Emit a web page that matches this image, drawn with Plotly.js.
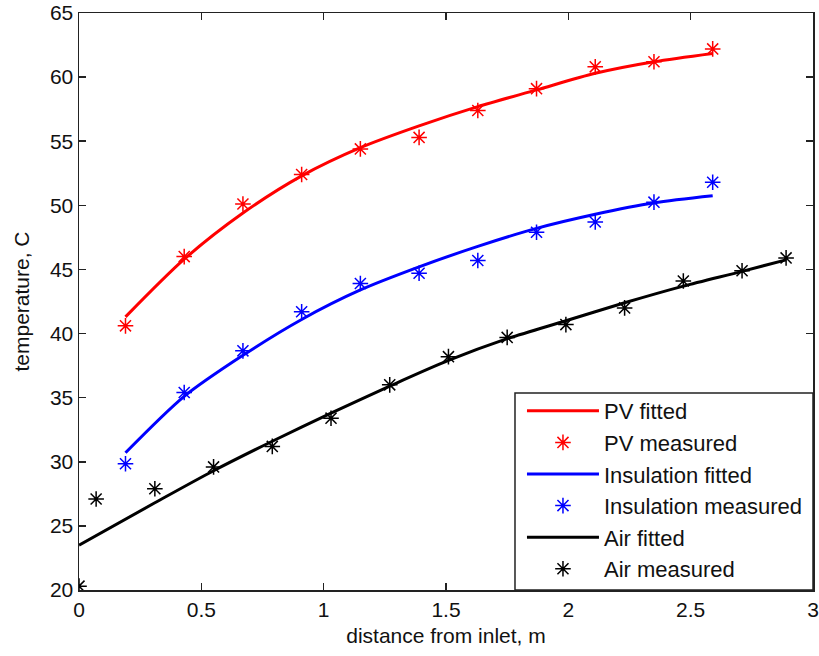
<!DOCTYPE html>
<html>
<head>
<meta charset="utf-8">
<script src="https://cdn.plot.ly/plotly-3.0.1.min.js"></script>
<style>
  html, body { margin: 0; padding: 0; background: #fff; }
  #chart { width: 819px; height: 656px; }
</style>
</head>
<body>
<div id="chart"></div>
<script>
// Distances from inlet (m)
const pvX = [0.19, 0.43, 0.67, 0.91, 1.15, 1.39, 1.63, 1.87, 2.11, 2.35, 2.59];
const pvMeasured = [40.6, 46.0, 50.1, 52.4, 54.4, 55.3, 57.4, 59.1, 60.8, 61.2, 62.2];
const pvFitted = [41.3, 45.8, 49.4, 52.3, 54.5, 56.2, 57.7, 59.0, 60.3, 61.2, 61.85];

const insX = [0.19, 0.43, 0.67, 0.91, 1.15, 1.39, 1.63, 1.87, 2.11, 2.35, 2.59];
const insMeasured = [29.85, 35.4, 38.65, 41.7, 43.9, 44.7, 45.7, 47.9, 48.7, 50.25, 51.8];
const insFitted = [30.7, 35.1, 38.3, 41.1, 43.4, 45.2, 46.8, 48.2, 49.3, 50.2, 50.75];

const airMeasX = [0.0, 0.07, 0.31, 0.55, 0.79, 1.03, 1.27, 1.51, 1.75, 1.99, 2.23, 2.47, 2.71, 2.89];
const airMeasured = [20.3, 27.1, 27.9, 29.6, 31.2, 33.4, 36.0, 38.2, 39.7, 40.7, 42.0, 44.1, 44.9, 45.9];
const airFitX = [0.0, 0.31, 0.55, 0.79, 1.03, 1.27, 1.51, 1.75, 1.99, 2.23, 2.47, 2.71, 2.89];
const airFitted = [23.5, 26.8, 29.3, 31.6, 33.8, 35.9, 37.9, 39.6, 41.0, 42.4, 43.7, 44.85, 45.75];

const xTicks = [0, 0.5, 1, 1.5, 2, 2.5, 3];
const yTicks = [20, 25, 30, 35, 40, 45, 50, 55, 60, 65];

const FONT = 'Arial, "Liberation Sans", sans-serif';

function fitTrace(name, x, y, color) {
  return { type: 'scatter', mode: 'lines', name: name, x: x, y: y,
    line: { color: color, width: 3, shape: 'spline', smoothing: 0.8 } };
}
function measTrace(name, x, y, color) {
  return { type: 'scatter', mode: 'markers', name: name, x: x, y: y,
    marker: { symbol: 'asterisk-open', size: 13, color: color, line: { color: color, width: 1.5 } } };
}

const data = [
  fitTrace('PV fitted', pvX, pvFitted, '#ff0000'),
  measTrace('PV measured', pvX, pvMeasured, '#ff0000'),
  fitTrace('Insulation fitted', insX, insFitted, '#0000ff'),
  measTrace('Insulation measured', insX, insMeasured, '#0000ff'),
  fitTrace('Air fitted', airFitX, airFitted, '#000000'),
  measTrace('Air measured', airMeasX, airMeasured, '#000000')
];

const axisCommon = {
  showgrid: false, zeroline: false, showline: true, linecolor: '#222', linewidth: 1.5,
  mirror: 'allticks', ticks: 'inside', ticklen: 7, tickwidth: 1.5, tickcolor: '#222',
  tickfont: { family: FONT, size: 21, color: '#111' }
};

const layout = {
  width: 819, height: 656,
  margin: { l: 79, r: 6, t: 13, b: 66 },
  paper_bgcolor: '#fff', plot_bgcolor: '#fff',
  font: { family: FONT, color: '#111' },
  showlegend: true,
  xaxis: Object.assign({}, axisCommon, {
    range: [0, 3], tickvals: xTicks, ticktext: xTicks.map(String),
    title: { text: 'distance from inlet, m', font: { family: FONT, size: 21, color: '#111' }, standoff: 8 }
  }),
  yaxis: Object.assign({}, axisCommon, {
    range: [20, 65], tickvals: yTicks, ticktext: yTicks.map(String),
    title: { text: 'temperature, C', font: { family: FONT, size: 21, color: '#111' }, standoff: 14 }
  }),
  shapes: [{
    type: 'rect', xref: 'paper', yref: 'paper', x0: 0.594, x1: 1, y0: 0, y1: 0.3414,
    line: { color: '#222', width: 1.5 }, fillcolor: '#fff', layer: 'above'
  }],
  legend: {
    x: 0.6035, y: 0.3466, xanchor: 'left', yanchor: 'top',
    bgcolor: 'rgba(0,0,0,0)', borderwidth: 0,
    font: { family: FONT, size: 22, color: '#111' },
    itemwidth: 72, tracegroupgap: 0
  }
};

Plotly.newPlot('chart', data, layout, { staticPlot: true, displayModeBar: false });
</script>
</body>
</html>
